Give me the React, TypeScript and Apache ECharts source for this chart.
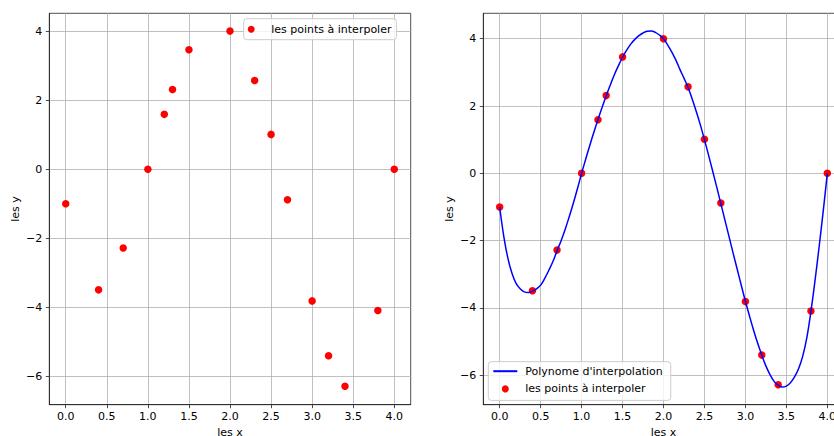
import React, { useEffect, useRef } from "react";
import * as echarts from "echarts";

// Points to interpolate
const xPoints = [0, 0.4, 0.7, 1, 1.2, 1.3, 1.5, 2, 2.3, 2.5, 2.7, 3, 3.2, 3.4, 3.8, 4];
const yPoints = [-1, -3.49, -2.28, 0, 1.59, 2.31, 3.46, 4, 2.57, 1.01, -0.88, -3.81, -5.4, -6.28, -4.09, 0];

// Interpolation polynomial
const curveX = [
  0, 0.05, 0.1, 0.15, 0.2, 0.25, 0.3, 0.35, 0.4, 0.45, 0.5, 0.55, 0.6, 0.65, 0.7, 0.75, 0.8, 0.85, 0.9, 0.95,
  1, 1.05, 1.1, 1.15, 1.2, 1.25, 1.3, 1.35, 1.4, 1.45, 1.5, 1.55, 1.6, 1.65, 1.7, 1.75, 1.8, 1.85, 1.9, 1.95,
  2, 2.05, 2.1, 2.15, 2.2, 2.25, 2.3, 2.35, 2.4, 2.45, 2.5, 2.55, 2.6, 2.65, 2.7, 2.75, 2.8, 2.85, 2.9, 2.95,
  3, 3.05, 3.1, 3.15, 3.2, 3.25, 3.3, 3.35, 3.4, 3.45, 3.5, 3.55, 3.6, 3.65, 3.7, 3.75, 3.8, 3.85, 3.9, 3.95, 4,
];
const curveY = [
  -1.0, -1.87, -2.52, -2.97, -3.27, -3.43, -3.52, -3.54, -3.5, -3.43, -3.32, -3.12, -2.88, -2.62, -2.3, -2.0, -1.66, -1.28, -0.88, -0.45,
  0.0, 0.42, 0.83, 1.22, 1.6, 1.96, 2.3, 2.62, 2.93, 3.2, 3.45, 3.66, 3.84, 3.98, 4.09, 4.17, 4.22, 4.23, 4.19, 4.11,
  4.0, 3.82, 3.61, 3.37, 3.09, 2.83, 2.55, 2.21, 1.84, 1.44, 1.0, 0.54, 0.07, -0.41, -0.9, -1.39, -1.88, -2.37, -2.85, -3.33,
  -3.8, -4.24, -4.66, -5.05, -5.4, -5.72, -5.98, -6.18, -6.3, -6.35, -6.32, -6.22, -6.05, -5.8, -5.43, -4.88, -4.1, -3.18, -2.18, -1.12, 0.0,
];

const xTicks = [0, 0.5, 1, 1.5, 2, 2.5, 3, 3.5, 4];
const yTicks = [-6, -4, -2, 0, 2, 4];

const pointsName = "les points à interpoler";
const lineName = "Polynome d'interpolation";

const FONT = "DejaVu Sans";
const FS = 11;

function makeX(gridIndex: number) {
  return {
    type: "value",
    gridIndex,
    min: -0.2,
    max: 4.2,
    name: "les x",
    nameLocation: "middle",
    nameGap: 21.5,
    nameTextStyle: { fontSize: FS, color: "#000", fontFamily: FONT },
    axisLine: { show: true, onZero: false, lineStyle: { color: "#222", width: 0.8 } },
    axisTick: { show: true, inside: false, length: 3.5, customValues: xTicks, lineStyle: { color: "#222", width: 0.8 } },
    axisLabel: {
      customValues: xTicks,
      margin: 6.5,
      fontSize: FS,
      color: "#000",
      fontFamily: FONT,
      formatter: (v: number) => v.toFixed(1),
    },
    splitLine: { show: true, lineStyle: { color: "#b0b0b0", width: 0.8 } },
  };
}

function makeY(gridIndex: number, min: number, max: number) {
  return {
    type: "value",
    gridIndex,
    min,
    max,
    name: "les y",
    nameLocation: "middle",
    nameGap: 28,
    nameTextStyle: { fontSize: FS, color: "#000", fontFamily: FONT },
    axisLine: { show: true, onZero: false, lineStyle: { color: "#222", width: 0.8 } },
    axisTick: { show: true, inside: false, length: 3.5, customValues: yTicks, lineStyle: { color: "#222", width: 0.8 } },
    axisLabel: {
      customValues: yTicks,
      margin: 7,
      fontSize: FS,
      color: "#000",
      fontFamily: FONT,
      formatter: (v: number) => String(v).replace("-", "\u2212"),
    },
    splitLine: { show: true, lineStyle: { color: "#b0b0b0", width: 0.8 } },
  };
}

const legendBase = {
  orient: "vertical",
  itemWidth: 24,
  itemHeight: 7,
  itemGap: 4.7,
  selectedMode: false,
  backgroundColor: "rgba(255,255,255,0.8)",
  borderColor: "#cccccc",
  borderWidth: 1,
  borderRadius: 3,
  formatter: (name: string) => "{g|}" + name,
  textStyle: {
    fontSize: FS,
    color: "#000",
    fontFamily: FONT,
    lineHeight: 13,
    rich: { g: { width: 3 } },
  },
};

export default function App() {
  const ref = useRef<HTMLDivElement>(null);
  useEffect(() => {
    if (!ref.current) return;
    const chart = echarts.init(ref.current, null, { renderer: "svg" });
    const pts = xPoints.map((x, i) => [x, yPoints[i]]);
    const curve = curveX.map((x, i) => [x, curveY[i]]);
    chart.setOption({
      animation: false,
      backgroundColor: "#fff",
      textStyle: { fontFamily: FONT },
      grid: [
        {
          left: 49.3, top: 13.3, width: 361.4, height: 391.4,
          show: true, borderColor: "#222", borderWidth: 0.8,
          containLabel: false, outerBoundsMode: "none",
        },
        {
          left: 483.3, top: 13.3, width: 360.4, height: 391.4,
          show: true, borderColor: "#222", borderWidth: 0.8,
          containLabel: false, outerBoundsMode: "none",
        },
      ],
      xAxis: [makeX(0), makeX(1)],
      yAxis: [makeY(0, -6.815, 4.515), makeY(1, -6.873, 4.755)],
      legend: [
        { ...legendBase, data: [pointsName], left: 243.7, top: 18.7, padding: [4, 5, 4, 4] },
        {
          ...legendBase,
          data: [{ name: lineName, itemStyle: { opacity: 0 } }, pointsName],
          left: 488.3,
          top: 361.7,
          padding: [3, 8, 5, 4],
        },
      ],
      series: [
        {
          type: "scatter",
          name: pointsName,
          xAxisIndex: 0,
          yAxisIndex: 0,
          data: pts,
          symbol: "circle",
          symbolSize: 7.5,
          itemStyle: { color: "#ff0000", opacity: 1 },
          z: 2,
        },
        {
          type: "line",
          name: lineName,
          xAxisIndex: 1,
          yAxisIndex: 1,
          data: curve,
          symbol: "none",
          showSymbol: false,
          smooth: 0.4,
          lineStyle: { color: "#0000ff", width: 1.5 },
          itemStyle: { color: "#0000ff" },
          z: 4,
        },
        {
          type: "scatter",
          name: pointsName,
          xAxisIndex: 1,
          yAxisIndex: 1,
          data: pts,
          symbol: "circle",
          symbolSize: 7.5,
          itemStyle: { color: "#ff0000", opacity: 1 },
          z: 2,
        },
      ],
    });
    return () => chart.dispose();
  }, []);
  return (
    <div style={{ position: "fixed", left: 0, top: 0, width: 834, height: 436, overflow: "hidden" }}>
      <div ref={ref} style={{ width: 850, height: 436 }} />
    </div>
  );
}
